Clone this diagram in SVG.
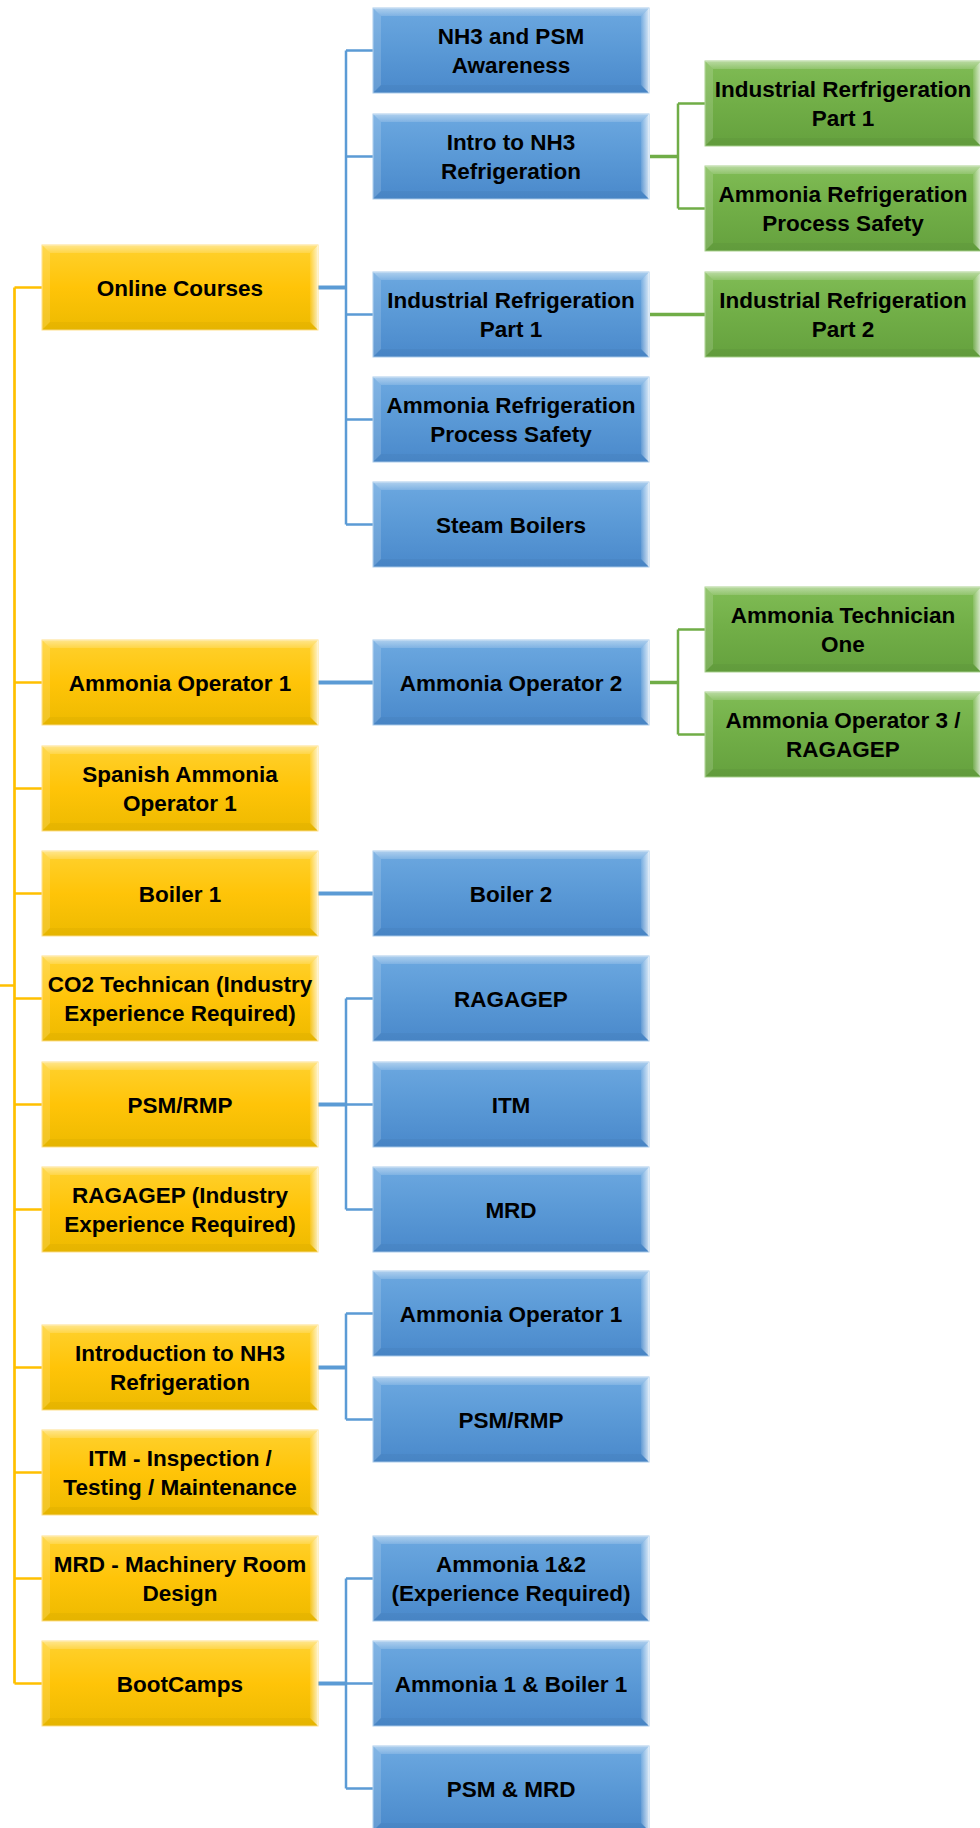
<svg xmlns="http://www.w3.org/2000/svg" xmlns:xlink="http://www.w3.org/1999/xlink" width="980" height="1828" viewBox="0 0 980 1828">
<style>
  text { font-family: "Liberation Sans", Arial, sans-serif; font-weight: bold; font-size: 22.5px; fill: #000; text-anchor: middle; }
  .cy { fill: none; stroke: #FFC000; stroke-width: 2.7; }
  .cb { fill: none; stroke: #5B9BD5; stroke-width: 2.5; }
  .cbt { fill: none; stroke: #5B9BD5; stroke-width: 4; }
  .cg { fill: none; stroke: #70AD47; stroke-width: 2.5; }
  .cgt { fill: none; stroke: #70AD47; stroke-width: 3.5; }
</style>
<defs>
  <linearGradient id="gY" x1="0" y1="0" x2="0" y2="1">
    <stop offset="0" stop-color="#FFD12E"/>
    <stop offset="0.5" stop-color="#FFC408"/>
    <stop offset="1" stop-color="#EDBA00"/>
  </linearGradient>
  <linearGradient id="gB" x1="0" y1="0" x2="0" y2="1">
    <stop offset="0" stop-color="#6CA8E0"/>
    <stop offset="0.5" stop-color="#5A99D6"/>
    <stop offset="1" stop-color="#4A89CB"/>
  </linearGradient>
  <linearGradient id="gG" x1="0" y1="0" x2="0" y2="1">
    <stop offset="0" stop-color="#80BC55"/>
    <stop offset="0.5" stop-color="#71AE47"/>
    <stop offset="1" stop-color="#65A13E"/>
  </linearGradient>
  <linearGradient id="gTop" x1="0" y1="0" x2="0" y2="1">
    <stop offset="0" stop-color="#FFFFFF" stop-opacity="0.45"/>
    <stop offset="1" stop-color="#FFFFFF" stop-opacity="0.15"/>
  </linearGradient>
  <linearGradient id="gRight" x1="0" y1="0" x2="1" y2="0">
    <stop offset="0" stop-color="#FFFFFF" stop-opacity="0.1"/>
    <stop offset="1" stop-color="#FFFFFF" stop-opacity="0.75"/>
  </linearGradient>
  <g id="bevel">
    <polygon points="0,0 276,0 268,8 8,8" fill="url(#gTop)"/>
    <polygon points="0,0 8,8 8,77 0,85" fill="#FFFFFF" fill-opacity="0.15"/>
    <polygon points="276,0 276,85 268,77 268,8" fill="url(#gRight)"/>
    <polygon points="0,85 276,85 268,77 8,77" fill="#000000" fill-opacity="0.03"/>
  </g>
  <g id="boxY">
    <rect x="0" y="0" width="276" height="85" fill="url(#gY)" stroke="#FFE08A" stroke-width="1"/>
    <use xlink:href="#bevel"/>
  </g>
  <g id="boxB">
    <rect x="0" y="0" width="276" height="85" fill="url(#gB)" stroke="#A9CBEB" stroke-width="1"/>
    <use xlink:href="#bevel"/>
  </g>
  <g id="boxG">
    <rect x="0" y="0" width="276" height="85" fill="url(#gG)" stroke="#A9D18E" stroke-width="1"/>
    <use xlink:href="#bevel"/>
  </g>
</defs>
<rect x="0" y="0" width="980" height="1828" fill="#FFFFFF"/>

<g id="connectors">
  <path class="cy" d="M0,985.5 H14.5 M14.5,287.5 V1683.5 M14.5,287.5 H42 M14.5,682.5 H42 M14.5,788.5 H42 M14.5,893.5 H42 M14.5,998.5 H42 M14.5,1104.5 H42 M14.5,1209.5 H42 M14.5,1367.5 H42 M14.5,1472.5 H42 M14.5,1578.5 H42 M14.5,1683.5 H42"/>
  <path class="cbt" d="M318,287.5 H346"/>
  <path class="cb" d="M346,50.5 V524.5 M346,50.5 H373 M346,156.5 H373 M346,314.5 H373 M346,419.5 H373 M346,524.5 H373"/>
  <path class="cbt" d="M318,682.5 H373"/>
  <path class="cbt" d="M318,893.5 H373"/>
  <path class="cbt" d="M318,1104.5 H346"/>
  <path class="cb" d="M346,998.5 V1209.5 M346,998.5 H373 M346,1104.5 H373 M346,1209.5 H373"/>
  <path class="cbt" d="M318,1367.5 H346"/>
  <path class="cb" d="M346,1313.5 V1419.5 M346,1313.5 H373 M346,1419.5 H373"/>
  <path class="cbt" d="M318,1683.5 H346"/>
  <path class="cb" d="M346,1578.5 V1788.5 M346,1578.5 H373 M346,1683.5 H373 M346,1788.5 H373"/>
  <path class="cgt" d="M650,156.5 H678"/>
  <path class="cg" d="M678,103.5 V208.5 M678,103.5 H705 M678,208.5 H705"/>
  <path class="cgt" d="M650,314.5 H705"/>
  <path class="cgt" d="M650,682.5 H678"/>
  <path class="cg" d="M678,629.5 V734.5 M678,629.5 H705 M678,734.5 H705"/>
</g>

<g id="online-courses"><use xlink:href="#boxY" x="42" y="245"/><text x="180" y="295.5">Online Courses</text></g>
<g id="ammonia-operator-1"><use xlink:href="#boxY" x="42" y="640"/><text x="180" y="690.5">Ammonia Operator 1</text></g>
<g id="spanish-ammonia-operator-1"><use xlink:href="#boxY" x="42" y="746"/><text x="180" y="781.5">Spanish Ammonia</text><text x="180" y="810.5">Operator 1</text></g>
<g id="boiler-1"><use xlink:href="#boxY" x="42" y="851"/><text x="180" y="901.5">Boiler 1</text></g>
<g id="co2-technican"><use xlink:href="#boxY" x="42" y="956"/><text x="180" y="991.5">CO2 Technican (Industry</text><text x="180" y="1020.5">Experience Required)</text></g>
<g id="psm-rmp"><use xlink:href="#boxY" x="42" y="1062"/><text x="180" y="1112.5">PSM/RMP</text></g>
<g id="ragagep-industry"><use xlink:href="#boxY" x="42" y="1167"/><text x="180" y="1202.5">RAGAGEP (Industry</text><text x="180" y="1231.5">Experience Required)</text></g>
<g id="introduction-nh3"><use xlink:href="#boxY" x="42" y="1325"/><text x="180" y="1360.5">Introduction to NH3</text><text x="180" y="1389.5">Refrigeration</text></g>
<g id="itm-inspection"><use xlink:href="#boxY" x="42" y="1430"/><text x="180" y="1465.5">ITM - Inspection /</text><text x="180" y="1494.5">Testing / Maintenance</text></g>
<g id="mrd-machinery"><use xlink:href="#boxY" x="42" y="1536"/><text x="180" y="1571.5">MRD - Machinery Room</text><text x="180" y="1600.5">Design</text></g>
<g id="bootcamps"><use xlink:href="#boxY" x="42" y="1641"/><text x="180" y="1691.5">BootCamps</text></g>

<g id="nh3-psm-awareness"><use xlink:href="#boxB" x="373" y="8"/><text x="511" y="43.5">NH3 and PSM</text><text x="511" y="72.5">Awareness</text></g>
<g id="intro-nh3-refrigeration"><use xlink:href="#boxB" x="373" y="114"/><text x="511" y="149.5">Intro to NH3</text><text x="511" y="178.5">Refrigeration</text></g>
<g id="industrial-refrigeration-1"><use xlink:href="#boxB" x="373" y="272"/><text x="511" y="307.5">Industrial Refrigeration</text><text x="511" y="336.5">Part 1</text></g>
<g id="ammonia-refrigeration-ps"><use xlink:href="#boxB" x="373" y="377"/><text x="511" y="412.5">Ammonia Refrigeration</text><text x="511" y="441.5">Process Safety</text></g>
<g id="steam-boilers"><use xlink:href="#boxB" x="373" y="482"/><text x="511" y="532.5">Steam Boilers</text></g>
<g id="ammonia-operator-2"><use xlink:href="#boxB" x="373" y="640"/><text x="511" y="690.5">Ammonia Operator 2</text></g>
<g id="boiler-2"><use xlink:href="#boxB" x="373" y="851"/><text x="511" y="901.5">Boiler 2</text></g>
<g id="ragagep"><use xlink:href="#boxB" x="373" y="956"/><text x="511" y="1006.5">RAGAGEP</text></g>
<g id="itm"><use xlink:href="#boxB" x="373" y="1062"/><text x="511" y="1112.5">ITM</text></g>
<g id="mrd"><use xlink:href="#boxB" x="373" y="1167"/><text x="511" y="1217.5">MRD</text></g>
<g id="ammonia-operator-1b"><use xlink:href="#boxB" x="373" y="1271"/><text x="511" y="1321.5">Ammonia Operator 1</text></g>
<g id="psm-rmp-b"><use xlink:href="#boxB" x="373" y="1377"/><text x="511" y="1427.5">PSM/RMP</text></g>
<g id="ammonia-1-2"><use xlink:href="#boxB" x="373" y="1536"/><text x="511" y="1571.5">Ammonia 1&amp;2</text><text x="511" y="1600.5">(Experience Required)</text></g>
<g id="ammonia-1-boiler-1"><use xlink:href="#boxB" x="373" y="1641"/><text x="511" y="1691.5">Ammonia 1 &amp; Boiler 1</text></g>
<g id="psm-mrd"><use xlink:href="#boxB" x="373" y="1746"/><text x="511" y="1796.5">PSM &amp; MRD</text></g>

<g id="industrial-rerfrigeration-1"><use xlink:href="#boxG" x="705" y="61"/><text x="843" y="96.5">Industrial Rerfrigeration</text><text x="843" y="125.5">Part 1</text></g>
<g id="ammonia-refrigeration-ps-g"><use xlink:href="#boxG" x="705" y="166"/><text x="843" y="201.5">Ammonia Refrigeration</text><text x="843" y="230.5">Process Safety</text></g>
<g id="industrial-refrigeration-2"><use xlink:href="#boxG" x="705" y="272"/><text x="843" y="307.5">Industrial Refrigeration</text><text x="843" y="336.5">Part 2</text></g>
<g id="ammonia-technician-one"><use xlink:href="#boxG" x="705" y="587"/><text x="843" y="622.5">Ammonia Technician</text><text x="843" y="651.5">One</text></g>
<g id="ammonia-operator-3"><use xlink:href="#boxG" x="705" y="692"/><text x="843" y="727.5">Ammonia Operator 3 /</text><text x="843" y="756.5">RAGAGEP</text></g>
</svg>
